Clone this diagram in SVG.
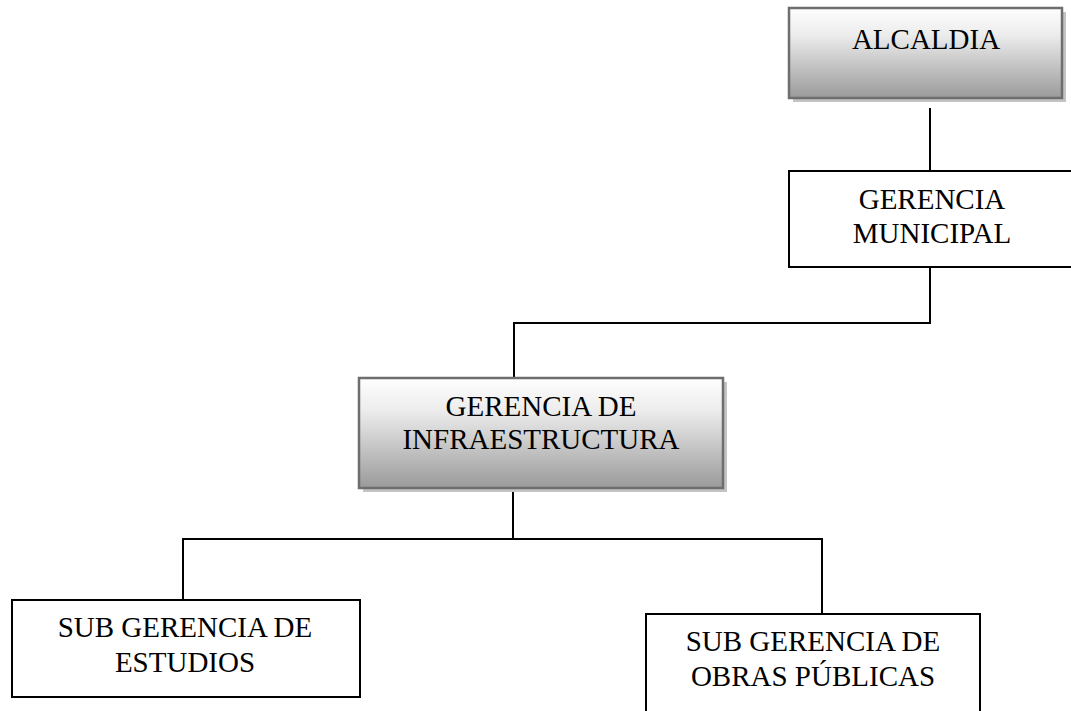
<svg xmlns="http://www.w3.org/2000/svg" width="1071" height="711" viewBox="0 0 1071 711">
<defs>
<linearGradient id="g" x1="0" y1="0" x2="0" y2="1">
<stop offset="0" stop-color="#fefefe"/>
<stop offset="0.3" stop-color="#ececec"/>
<stop offset="1" stop-color="#9a9a9a"/>
</linearGradient>
</defs>
<style>
text{font-family:"Liberation Serif","Times New Roman",serif;font-size:29px;fill:#000;text-anchor:middle}
.sh{fill:#c4c4c4}
.gb{fill:url(#g);stroke:#6e6e6e;stroke-width:2.5}
.wb{fill:#fff;stroke:#000;stroke-width:2}
.c{fill:none;stroke:#000;stroke-width:2}
</style>
<rect width="1071" height="711" fill="#fff"/>
<g id="connectors">
<path class="c" d="M930 108V171"/>
<path class="c" d="M930 267V323H514V378"/>
<path class="c" d="M513 489V539"/>
<path class="c" d="M183 600V539H822V614"/>
</g>
<g id="alcaldia">
<rect class="sh" x="793" y="12" width="273" height="90"/>
<rect class="gb" x="789" y="8" width="273" height="90"/>
<text x="926" y="49">ALCALDIA</text>
</g>
<g id="gerencia-municipal">
<rect class="wb" x="789" y="171" width="290" height="96"/>
<text x="932" y="209">GERENCIA</text>
<text x="932" y="243">MUNICIPAL</text>
</g>
<g id="gerencia-infraestructura">
<rect class="sh" x="363" y="382" width="364" height="110"/>
<rect class="gb" x="359" y="378" width="364" height="110"/>
<text x="541" y="416">GERENCIA DE</text>
<text x="541" y="449">INFRAESTRUCTURA</text>
</g>
<g id="sub-estudios">
<rect class="wb" x="12" y="600" width="348" height="97"/>
<text x="185" y="637">SUB GERENCIA DE</text>
<text x="185" y="672">ESTUDIOS</text>
</g>
<g id="sub-obras">
<rect class="wb" x="646" y="614" width="334" height="110"/>
<text x="813" y="651">SUB GERENCIA DE</text>
<text x="813" y="686">OBRAS PÚBLICAS</text>
</g>
</svg>
